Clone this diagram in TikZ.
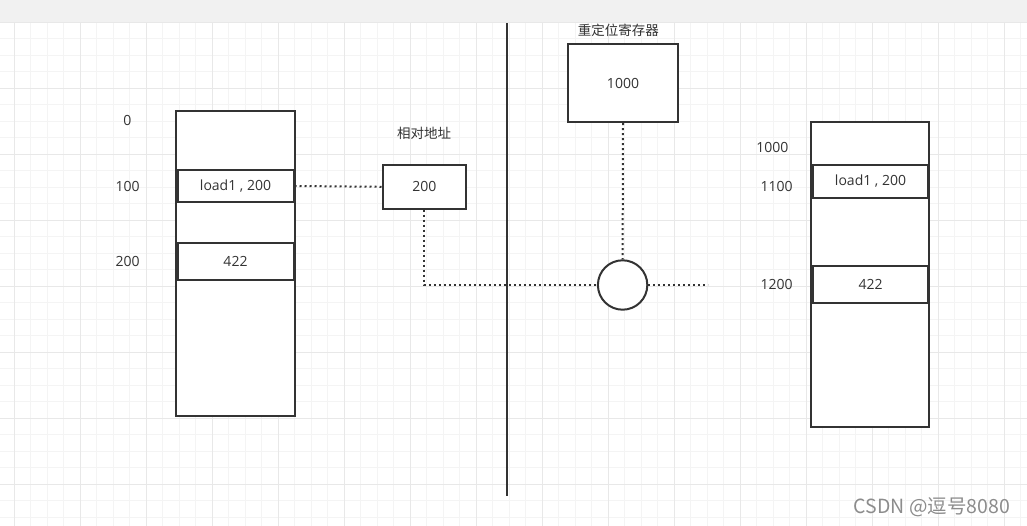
\documentclass[tikz,border=0pt]{standalone}
\usepackage{fontspec}
\setmainfont{Open Sans}
\newfontfamily\cjk{Noto Sans CJK SC}
\definecolor{ink}{HTML}{333333}
\definecolor{txt}{HTML}{333333}
\definecolor{gridminor}{HTML}{F4F4F4}
\definecolor{gridmajor}{HTML}{E8E8E8}
\definecolor{topbar}{HTML}{F1F1F1}
\definecolor{wm}{HTML}{8C8C8C}
\begin{document}
\begin{tikzpicture}[x=1pt,y=-1pt,
  box/.style={draw=ink,line width=2pt,fill=white,rectangle,inner sep=0pt,
    font=\fontsize{14}{16}\selectfont,text=txt},
  lbl/.style={inner sep=0pt,font=\fontsize{14}{16}\selectfont,text=txt},
  cjklbl/.style={inner sep=0pt,font=\cjk\fontsize{13.5}{16}\selectfont,text=txt},
  dotline/.style={draw=ink,line width=2pt,dash pattern=on 2pt off 3pt},
  solidline/.style={draw=ink,line width=2pt}]
\useasboundingbox (0,0) rectangle (1027,526);
\fill[white] (0,0) rectangle (1027,526);
\fill[topbar] (0,0) rectangle (1027,22.3);
% grid
\foreach \i in {0,...,61}{
  \pgfmathsetmacro{\gx}{14+16.5*\i}
  \draw[gridminor,line width=1pt] (\gx,22.3) -- (\gx,526);
}
\foreach \i in {0,...,30}{
  \pgfmathsetmacro{\gy}{22.3+16.5*\i}
  \draw[gridminor,line width=1pt] (0,\gy) -- (1027,\gy);
}
\foreach \i in {0,...,15}{
  \pgfmathsetmacro{\gx}{14+66*\i}
  \draw[gridmajor,line width=1pt] (\gx,22.3) -- (\gx,526);
}
\foreach \i in {0,...,7}{
  \pgfmathsetmacro{\gy}{22.3+66*\i}
  \draw[gridmajor,line width=1pt] (0,\gy) -- (1027,\gy);
}
% left memory
\node[box,minimum width=118.7pt,minimum height=305pt] (lmem) at (235.6,263.2) {};
\node[box,minimum width=116pt,minimum height=32.5pt] (lrow1) at (235.5,186) {load1 , 200};
\node[box,minimum width=116pt,minimum height=37.3pt] (lrow2) at (235.5,261.3) {422};
\node[lbl] (l0) at (127.3,120) {0};
\node[lbl] (l100) at (127.7,186.7) {100};
\node[lbl] (l200) at (127.7,261.7) {200};
% relative address
\node[cjklbl] (reltitle) at (424,133) {相对地址};
\node[box,minimum width=83.3pt,minimum height=43.7pt] (rel) at (424.3,186.8) {200};
% divider
\node[inner sep=0pt] (divtop) at (506.7,23.3) {};
\node[inner sep=0pt] (divbot) at (506.7,495.7) {};
\draw[solidline] (divtop.center) -- (divbot.center);
% relocation register
\node[cjklbl] (regtitle) at (618.3,30) {重定位寄存器};
\node[box,minimum width=110.6pt,minimum height=77.7pt] (reg) at (623,83.2) {1000};
\node[draw=ink,line width=2pt,fill=white,circle,inner sep=0pt,minimum size=49.4pt] (sum) at (622.6,285) {};
\coordinate (out) at (708.3,285);
% connectors
\draw[dotline] (lrow1.east) -- (rel.west);
\draw[dotline] (rel.south) |- (sum.west);
\draw[dotline] (reg.south) -- (sum.north);
\draw[dotline] (sum.east) -- (out);
% right memory
\node[box,minimum width=118pt,minimum height=304.7pt] (rmem) at (870,274.3) {};
\node[box,minimum width=115.6pt,minimum height=33pt] (rrow1) at (870.5,181.2) {load1 , 200};
\node[box,minimum width=115.6pt,minimum height=37.3pt] (rrow2) at (870.5,284.3) {422};
\node[lbl] (r1000) at (772.3,147.7) {1000};
\node[lbl] (r1100) at (776.7,186.7) {1100};
\node[lbl] (r1200) at (776.7,284.3) {1200};
% watermark
\node[inner sep=0pt,text=wm,font=\cjk\fontsize{19.5}{22}\selectfont] (wmark) at (932,507.5) {CSDN @逗号8080};
\end{tikzpicture}
\end{document}
